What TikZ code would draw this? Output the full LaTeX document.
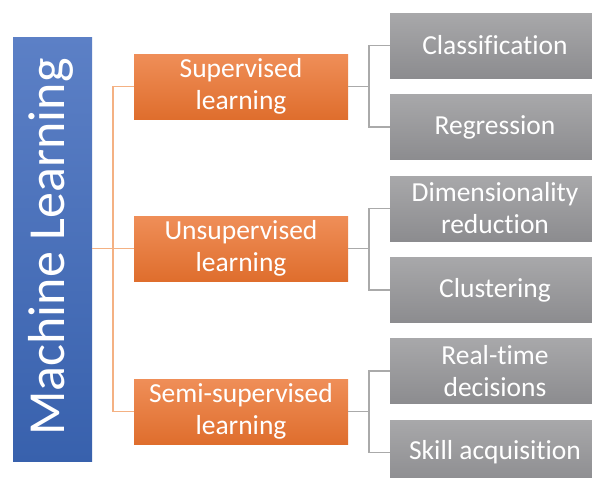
\documentclass[tikz,border=0pt]{standalone}
\usepackage{fontspec}
\setmainfont{Carlito}[Ligatures={NoCommon}]
\definecolor{bluetop}{RGB}{92,128,198}
\definecolor{bluebot}{RGB}{56,97,173}
\definecolor{orgtop}{RGB}{239,142,88}
\definecolor{orgbot}{RGB}{223,110,45}
\definecolor{graytop}{RGB}{168,168,170}
\definecolor{graybot}{RGB}{140,140,143}
\definecolor{orgline}{RGB}{244,177,131}
\definecolor{grayline}{RGB}{170,170,170}
\begin{document}
\begin{tikzpicture}[x=1pt,y=-1pt,
  mainbox/.style={shading=axis,top color=bluetop,bottom color=bluebot,minimum width=79pt,minimum height=424pt,inner sep=0pt,text=white},
  catbox/.style={shading=axis,top color=orgtop,bottom color=orgbot,minimum width=214pt,minimum height=65pt,inner sep=0pt,text=white,align=center,font=\fontsize{27.5}{32}\selectfont},
  leafbox/.style={shading=axis,top color=graytop,bottom color=graybot,minimum width=210pt,minimum height=65pt,inner sep=0pt,text=white,align=center,font=\fontsize{27.5}{32}\selectfont},
  oline/.style={draw=orgline,line width=1.3pt},
  gline/.style={draw=grayline,line width=1.3pt}]
\useasboundingbox (0,0) rectangle (592,477);
\clip (0,0) rectangle (592,477);
\fill[white] (0,0) rectangle (592,477);
% main
\node[mainbox] (ml) at (52.5,249) {};
\node[rotate=90,text=white,font=\fontsize{52}{60}\selectfont,anchor=center] (mlt) at (51,247) {Machine Learning};
% categories
\node[catbox] (sup) at (241,86.5) {Supervised\\learning};
\node[catbox] (uns) at (241,248.5) {Unsupervised\\learning};
\node[catbox] (semi) at (241,411.5) {Semi-supervised\\learning};
% leaves
\node[leafbox] (cla) at (495,45.5) {Classification};
\node[leafbox] (reg) at (495,127) {Regression};
\node[leafbox] (dim) at (495,208.5) {Dimensionality\\reduction};
\node[leafbox] (clu) at (495,290) {Clustering};
\node[leafbox] (rt) at (495,371) {Real-time\\decisions};
\node[leafbox] (sk) at (495,452.5) {Skill acquisition};
% orange connectors
\coordinate (tr) at (113,248.5);
\draw[oline] (ml.east |- uns.west) -- (uns.west);
\draw[oline] (sup.west) -| (tr) |- (semi.west);
% gray connectors
\coordinate (g1) at (369,86.5);
\coordinate (g2) at (369,248.5);
\coordinate (g3) at (369,411.5);
\draw[gline] (sup.east) -- (g1);
\draw[gline] (cla.west) -| (g1) |- (reg.west);
\draw[gline] (uns.east) -- (g2);
\draw[gline] (dim.west) -| (g2) |- (clu.west);
\draw[gline] (semi.east) -- (g3);
\draw[gline] (rt.west) -| (g3) |- (sk.west);
\end{tikzpicture}
\end{document}
